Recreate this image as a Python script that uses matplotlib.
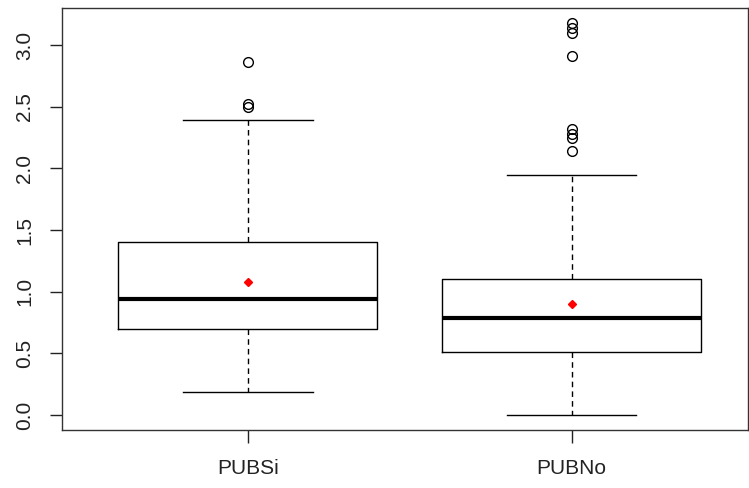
import matplotlib.pyplot as plt

plt.rcParams['font.family'] = ['Liberation Sans', 'DejaVu Sans']

groups = ['PUBSi', 'PUBNo']
q1 = [0.70, 0.51]
median = [0.94, 0.79]
q3 = [1.40, 1.10]
whislo = [0.19, 0.00]
whishi = [2.39, 1.95]
means = [1.08, 0.90]
outliers = [
    [2.86, 2.50, 2.52],
    [3.18, 3.14, 3.10, 2.91, 2.32, 2.28, 2.25, 2.14],
]

stats = []
for i, name in enumerate(groups):
    stats.append(dict(label=name, q1=q1[i], med=median[i], q3=q3[i],
                      whislo=whislo[i], whishi=whishi[i], fliers=outliers[i]))

fig = plt.figure(figsize=(7.49, 4.88), dpi=100)
ax = fig.add_axes([62 / 749, 58 / 488, 686 / 749, 422 / 488])

pos = [1, 2]
ax.bxp(stats, positions=pos, widths=0.8, showfliers=True,
       boxprops=dict(color='black', linewidth=1),
       medianprops=dict(color='black', linewidth=3),
       whiskerprops=dict(color='black', linewidth=1, linestyle=(0, (4, 3))),
       capprops=dict(color='black', linewidth=1),
       capwidths=0.4,
       flierprops=dict(marker='o', markerfacecolor='none', markeredgecolor='black',
                       markersize=7, markeredgewidth=1))
ax.plot(pos, means, linestyle='none', marker='D', color='red', markersize=4)

ax.set_xlim(0.426, 2.545)
ax.set_ylim(-0.12, 3.30)
ax.set_yticks([0.0, 0.5, 1.0, 1.5, 2.0, 2.5, 3.0])
ax.set_yticklabels(['0.0', '0.5', '1.0', '1.5', '2.0', '2.5', '3.0'], rotation=90, va='center')
ax.tick_params(axis='both', length=9, labelsize=15, width=1, colors='#222222')
ax.tick_params(axis='x', pad=12)
ax.tick_params(axis='y', pad=11)
for s in ax.spines.values():
    s.set_linewidth(1)
    s.set_color('#333333')

fig.savefig('out.png', dpi=100)
